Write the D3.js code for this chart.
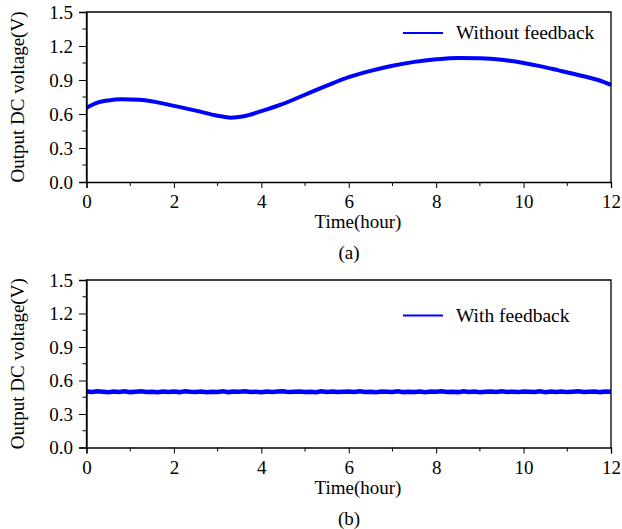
<!DOCTYPE html>
<html>
<head>
<meta charset="utf-8">
<script src="https://cdn.jsdelivr.net/npm/d3@7"></script>
<style>
  body { margin: 0; background: #fff; }
  svg { display: block; }
  text { font-family: "Liberation Serif", "Times New Roman", serif; fill: #000; }
</style>
</head>
<body>
<div id="main"></div>
<script>
// values
var timeA = [0, 0.25, 0.5, 0.8, 1.2, 1.6, 2, 2.5, 3, 3.3, 3.6, 4, 4.43, 5, 5.5, 6, 6.5, 7, 7.5, 8, 8.5, 9, 9.5, 10, 10.4, 10.8, 11.3, 11.7, 12];
var voltA = [0.655, 0.70, 0.72, 0.73, 0.725, 0.705, 0.672, 0.63, 0.585, 0.568, 0.580, 0.625, 0.68, 0.77, 0.85, 0.925, 0.98, 1.025, 1.06, 1.083, 1.095, 1.092, 1.078, 1.05, 1.02, 0.985, 0.94, 0.90, 0.858];

// with feedback: sampled every 0.125 h from 0 to 12
var timeB = d3.range(0, 12.0001, 0.125);
var voltB = [
  0.502, 0.497, 0.503, 0.499, 0.495, 0.501, 0.498, 0.504, 0.496, 0.500, 0.503, 0.497,
  0.499, 0.495, 0.502, 0.498, 0.501, 0.496, 0.503, 0.499, 0.497, 0.502, 0.495, 0.500,
  0.498, 0.503, 0.496, 0.501, 0.499, 0.504, 0.497, 0.500, 0.495, 0.502, 0.498, 0.501,
  0.503, 0.496, 0.499, 0.502, 0.497, 0.500, 0.495, 0.503, 0.498, 0.501, 0.496, 0.499,
  0.502, 0.497, 0.504, 0.498, 0.500, 0.495, 0.502, 0.499, 0.497, 0.503, 0.496, 0.500,
  0.498, 0.502, 0.495, 0.501, 0.499, 0.504, 0.497, 0.500, 0.496, 0.503, 0.498, 0.501,
  0.495, 0.499, 0.502, 0.497, 0.504, 0.498, 0.500, 0.496, 0.502, 0.499, 0.497, 0.503,
  0.495, 0.501, 0.498, 0.502, 0.496, 0.500, 0.503, 0.497, 0.499, 0.502, 0.496, 0.501,
  0.499
];

var xTicks = [0, 2, 4, 6, 8, 10, 12];
var xMinor = [1, 3, 5, 7, 9, 11];
var yTicks = [0, 0.3, 0.6, 0.9, 1.2, 1.5];
var yMinor = [0.15, 0.45, 0.75, 1.05, 1.35];

var panels = [
  { top: 12, h: 170, time: timeA, volt: voltA, legend: "Without feedback", legY: 21, tag: "(a)", sw: 4, curve: d3.curveMonotoneX },
  { top: 280, h: 167.5, time: timeB, volt: voltB, legend: "With feedback", legY: 35.5, tag: "(b)", sw: 4.5, curve: d3.curveLinear }
];

var W = 622, H = 529;
var left = 86.5, right = 611;
var fs = 19;

var svg = d3.select("#main").append("svg")
  .attr("width", W).attr("height", H);

panels.forEach(function (p) {
  var g = svg.append("g").attr("transform", "translate(0," + p.top + ")");

  var x = d3.scaleLinear().domain([0, 12]).range([left, right]);
  var y = d3.scaleLinear().domain([0, 1.5]).range([p.h, 0]);

  var data = p.time.map(function (t, i) { return { t: t, v: p.volt[i] }; });

  // curve
  g.append("path")
    .datum(data)
    .attr("fill", "none")
    .attr("stroke", "#0000ff")
    .attr("stroke-width", p.sw)
    .attr("d", d3.line()
      .x(function (d) { return x(d.t); })
      .y(function (d) { return y(d.v); })
      .curve(p.curve));

  // frame
  g.append("path")
    .attr("fill", "none").attr("stroke", "#000").attr("stroke-width", 1.3)
    .attr("d", "M" + left + "," + y(0) + "V" + y(1.5) + "H" + right + "V" + y(0));

  // x axis
  var xa = g.append("g").attr("transform", "translate(0," + p.h + ")")
    .call(d3.axisBottom(x).tickValues(xTicks).tickSize(6).tickPadding(7).tickFormat(d3.format("d")));
  xa.append("g").selectAll("line").data(xMinor).enter().append("line")
    .attr("x1", x).attr("x2", x).attr("y1", 0).attr("y2", 4).attr("stroke", "#000");

  // y axis
  var ya = g.append("g").attr("transform", "translate(" + left + ",0)")
    .call(d3.axisLeft(y).tickValues(yTicks).tickSize(7.5).tickPadding(6).tickFormat(d3.format(".1f")));
  ya.append("g").selectAll("line").data(yMinor).enter().append("line")
    .attr("y1", y).attr("y2", y).attr("x1", 0).attr("x2", -4).attr("stroke", "#000");

  [xa, ya].forEach(function (a) {
    a.select(".domain").attr("stroke", "#000").attr("stroke-width", 1.3);
    a.selectAll(".tick line").attr("stroke", "#000");
    a.selectAll("text").attr("font-size", fs).attr("fill", "#000")
      .style("font-family", "'Liberation Serif', serif");
  });

  // labels
  g.append("text").attr("x", 358).attr("y", p.h + 46)
    .attr("text-anchor", "middle").attr("font-size", fs).text("Time(hour)");
  g.append("text").attr("x", 349).attr("y", p.h + 77)
    .attr("text-anchor", "middle").attr("font-size", fs).text(p.tag);
  g.append("text").attr("transform", "translate(24," + p.h / 2 + ") rotate(-90)")
    .attr("text-anchor", "middle").attr("font-size", fs).text("Output DC voltage(V)");

  // legend
  g.append("line").attr("x1", 403).attr("x2", 443).attr("y1", p.legY).attr("y2", p.legY)
    .attr("stroke", "#0000ff").attr("stroke-width", 2);
  g.append("text").attr("x", 456).attr("y", p.legY + 6).attr("font-size", 19.5).text(p.legend);
});
</script>
</body>
</html>
